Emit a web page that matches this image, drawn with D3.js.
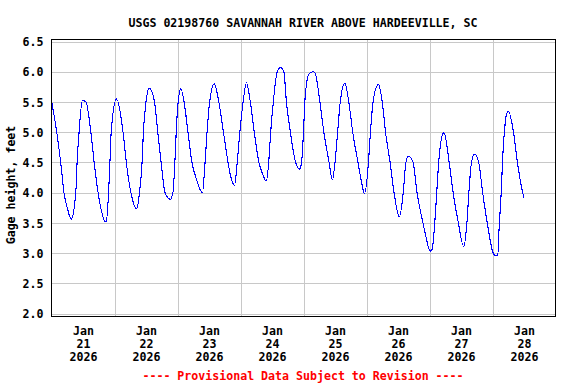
<!DOCTYPE html>
<html><head><meta charset="utf-8">
<script src="https://cdn.jsdelivr.net/npm/d3@7"></script>
<style>
html,body{margin:0;padding:0;background:#fff;}
svg{display:block;}
text{font-family:"DejaVu Sans Mono","Liberation Mono",monospace;font-weight:bold;font-size:11.6px;fill:#000;}
</style></head><body>
<svg id="chart" width="576" height="384"></svg>
<script>
const title = "USGS 02198760 SAVANNAH RIVER ABOVE HARDEEVILLE, SC";
const yAxisTitle = "Gage height, feet";
const footer = "---- Provisional Data Subject to Revision ----";
const yTicks = [2.0, 2.5, 3.0, 3.5, 4.0, 4.5, 5.0, 5.5, 6.0, 6.5];
const xDomain = ["2026-01-21 00:00", "2026-01-29 00:00"];
const dayGrid = ["2026-01-22 00:00","2026-01-23 00:00","2026-01-24 00:00","2026-01-25 00:00","2026-01-26 00:00","2026-01-27 00:00","2026-01-28 00:00"];
const dayLabels = ["2026-01-21 12:00","2026-01-22 12:00","2026-01-23 12:00","2026-01-24 12:00","2026-01-25 12:00","2026-01-26 12:00","2026-01-27 12:00","2026-01-28 12:00"];

const times = [
 "2026-01-21 00:00","2026-01-21 02:00","2026-01-21 03:30","2026-01-21 04:45","2026-01-21 06:00","2026-01-21 07:30","2026-01-21 09:15","2026-01-21 09:45","2026-01-21 10:30","2026-01-21 11:45","2026-01-21 13:00","2026-01-21 15:00","2026-01-21 16:15","2026-01-21 17:45","2026-01-21 18:45","2026-01-21 20:45","2026-01-21 21:45","2026-01-21 22:15","2026-01-21 22:45",
 "2026-01-22 00:45","2026-01-22 03:15","2026-01-22 04:30","2026-01-22 06:15","2026-01-22 08:30","2026-01-22 09:30","2026-01-22 10:30","2026-01-22 11:00","2026-01-22 12:00","2026-01-22 13:15","2026-01-22 15:15","2026-01-22 16:30","2026-01-22 17:45","2026-01-22 19:15","2026-01-22 21:15","2026-01-22 22:15","2026-01-22 23:00","2026-01-22 23:30",
 "2026-01-23 00:15","2026-01-23 01:15","2026-01-23 02:30","2026-01-23 04:00","2026-01-23 05:30","2026-01-23 07:00","2026-01-23 09:30","2026-01-23 10:30","2026-01-23 11:15","2026-01-23 12:15","2026-01-23 14:00","2026-01-23 15:45","2026-01-23 17:30","2026-01-23 19:15","2026-01-23 20:15","2026-01-23 21:45","2026-01-23 22:45","2026-01-23 23:45",
 "2026-01-24 01:00","2026-01-24 02:15","2026-01-24 03:45","2026-01-24 05:15","2026-01-24 07:00","2026-01-24 08:30","2026-01-24 09:45","2026-01-24 10:45","2026-01-24 11:30","2026-01-24 12:30","2026-01-24 14:00","2026-01-24 15:15","2026-01-24 16:30","2026-01-24 17:30","2026-01-24 19:00","2026-01-24 21:00","2026-01-24 22:30","2026-01-24 23:15",
 "2026-01-25 00:00","2026-01-25 00:30","2026-01-25 02:00","2026-01-25 03:00","2026-01-25 03:45","2026-01-25 04:30","2026-01-25 06:15","2026-01-25 07:45","2026-01-25 09:45","2026-01-25 11:00","2026-01-25 12:00","2026-01-25 13:00","2026-01-25 14:00","2026-01-25 15:45","2026-01-25 17:15","2026-01-25 18:45","2026-01-25 20:45","2026-01-25 22:00","2026-01-25 23:15",
 "2026-01-26 00:45","2026-01-26 01:30","2026-01-26 02:30","2026-01-26 04:30","2026-01-26 06:00","2026-01-26 07:15","2026-01-26 09:00","2026-01-26 10:30","2026-01-26 12:30","2026-01-26 14:00","2026-01-26 15:00","2026-01-26 16:00","2026-01-26 17:45","2026-01-26 19:15","2026-01-26 21:30","2026-01-26 22:45",
 "2026-01-27 00:15","2026-01-27 01:00","2026-01-27 02:00","2026-01-27 02:45","2026-01-27 03:30","2026-01-27 04:45","2026-01-27 05:30","2026-01-27 07:30","2026-01-27 09:00","2026-01-27 11:00","2026-01-27 13:00","2026-01-27 14:15","2026-01-27 15:00","2026-01-27 16:00","2026-01-27 17:15","2026-01-27 18:45","2026-01-27 20:15","2026-01-27 22:00",
 "2026-01-28 00:15","2026-01-28 01:00","2026-01-28 02:00","2026-01-28 02:30","2026-01-28 03:15","2026-01-28 04:00","2026-01-28 04:45","2026-01-28 05:15","2026-01-28 06:00","2026-01-28 08:00","2026-01-28 09:30","2026-01-28 11:30","2026-01-28 12:00"
];
const gageHeight = [
 5.52,5.00,4.50,4.00,3.75,3.56,4.00,4.50,5.00,5.52,5.51,5.00,4.50,4.00,3.75,3.51,4.00,4.50,5.00,
 5.55,5.00,4.50,4.00,3.73,4.00,4.50,5.00,5.50,5.73,5.50,5.00,4.50,4.00,3.89,4.00,4.50,5.00,
 5.50,5.72,5.50,5.00,4.50,4.25,4.00,4.50,5.00,5.50,5.80,5.50,5.00,4.50,4.27,4.12,4.50,5.00,
 5.50,5.82,5.50,5.00,4.50,4.30,4.19,4.50,5.00,5.50,6.00,6.07,6.00,5.50,5.00,4.50,4.39,4.50,
 5.00,5.50,5.96,5.99,6.00,5.97,5.50,5.00,4.50,4.21,4.50,5.00,5.50,5.81,5.50,5.00,4.50,4.20,3.98,
 4.50,5.00,5.50,5.79,5.50,5.00,4.50,4.00,3.60,4.00,4.50,4.60,4.50,4.00,3.50,3.25,
 3.03,3.06,3.50,4.00,4.50,4.93,4.99,4.50,4.00,3.50,3.11,3.50,4.00,4.50,4.64,4.50,4.00,3.50,
 3.00,2.96,2.96,3.40,3.95,4.67,5.11,5.28,5.35,5.00,4.50,4.00,3.92
];

const parse = d3.utcParse("%Y-%m-%d %H:%M");
const fmtMon = d3.utcFormat("%b"), fmtDay = d3.utcFormat("%d"), fmtYr = d3.utcFormat("%Y");

const L = 51.5, R = 555.5, T = 39.5, B = 316.5;
const svg = d3.select("#chart");

const x = d3.scaleUtc().domain(xDomain.map(parse)).range([L, R]);
const y = d3.scaleLinear().domain([2.0, 6.5]).range([313.5, 41.5]);

// horizontal grid
const gy = svg.append("g").attr("transform", `translate(${L},0)`)
  .call(d3.axisLeft(y).tickValues(yTicks).tickSize(-(R - L)).tickFormat(""));
gy.select(".domain").remove();
gy.selectAll("line").attr("stroke", "#c8c8c8").attr("shape-rendering", "crispEdges");

// vertical grid
const gx = svg.append("g").attr("transform", `translate(0,${B})`)
  .call(d3.axisBottom(x).tickValues(dayGrid.map(parse)).tickSize(-(B - T)).tickFormat(""));
gx.select(".domain").remove();
gx.selectAll("line").attr("stroke", "#c8c8c8").attr("shape-rendering", "crispEdges");

// data line
const data = times.map((t, i) => ({t: parse(t), v: gageHeight[i]}));
svg.append("path").datum(data)
  .attr("fill", "none").attr("stroke", "#0000ff").attr("stroke-width", 1.1)
  .attr("shape-rendering", "crispEdges")
  .attr("d", d3.line().x(d => x(d.t)).y(d => y(d.v)).curve(d3.curveMonotoneX));

// frame
svg.append("rect").attr("x", L).attr("y", T).attr("width", R - L).attr("height", B - T)
  .attr("fill", "none").attr("stroke", "#000").attr("stroke-width", 1).attr("shape-rendering", "crispEdges");

// y labels
const yl = svg.append("g").attr("transform", `translate(${L},0)`)
  .call(d3.axisLeft(y).tickValues(yTicks).tickSize(0).tickPadding(8).tickFormat(d3.format(".1f")));
yl.select(".domain").remove();
yl.selectAll("text").attr("font-family", null).attr("font-size", null).attr("dy", "0.36em");

// x labels
const xl = svg.append("g").attr("transform", `translate(0,${B})`)
  .call(d3.axisBottom(x).tickValues(dayLabels.map(parse)).tickSize(0).tickFormat(""));
xl.select(".domain").remove();
xl.selectAll(".tick text").each(function(d) {
  const t = d3.select(this).attr("y", null).attr("dy", null).attr("font-family", null).attr("font-size", null);
  t.text(null);
  [fmtMon(d), fmtDay(d), fmtYr(d)].forEach((s, i) => {
    t.append("tspan").attr("x", 0).attr("y", 18.5 + i * 13).text(s);
  });
});

// titles
svg.append("text").attr("x", 303).attr("y", 27).attr("text-anchor", "middle").text(title);
svg.append("text").attr("transform", "translate(15,185) rotate(-90)").attr("text-anchor", "middle").text(yAxisTitle);
svg.append("text").attr("x", 303).attr("y", 380).attr("text-anchor", "middle").style("fill", "#ff0000").text(footer);
</script>
</body></html>
